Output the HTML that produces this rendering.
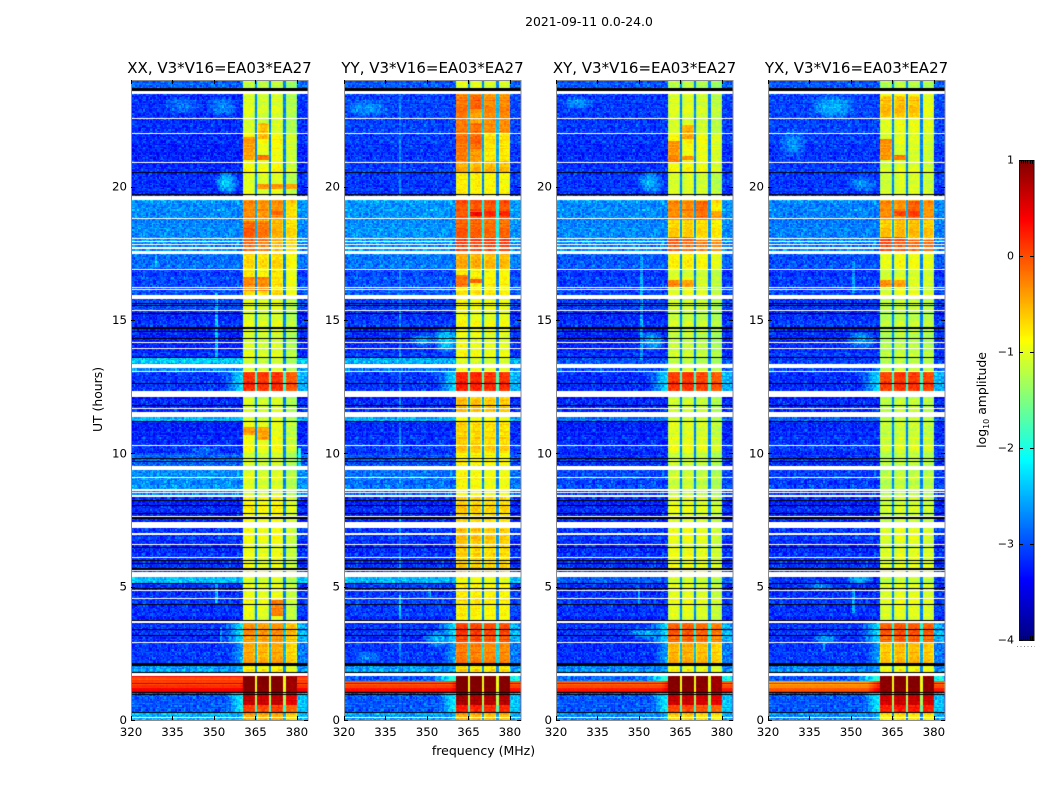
<!DOCTYPE html>
<html lang="en">
<head>
<meta charset="utf-8">
<title>2021-09-11 0.0-24.0</title>
<style>
html,body{margin:0;padding:0;background:#fff;}
#figure{position:relative;width:1050px;height:800px;overflow:hidden;background:#fff;font-family:"DejaVu Sans","Liberation Sans",sans-serif;}
canvas{position:absolute;display:block;}
svg{position:absolute;left:0;top:0;}
svg text{fill:#000;font-family:"DejaVu Sans","Liberation Sans",sans-serif;}
</style>
</head>
<body>
<div id="figure">
<canvas id="heat-xx" width="177" height="640" style="left:131px;top:80px"></canvas>
<canvas id="heat-yy" width="177" height="640" style="left:344px;top:80px"></canvas>
<canvas id="heat-xy" width="177" height="640" style="left:556px;top:80px"></canvas>
<canvas id="heat-yx" width="177" height="640" style="left:768px;top:80px"></canvas>
<canvas id="colorbar" width="15" height="480" style="left:1019px;top:160px"></canvas>
<svg id="overlay" width="1050" height="800" viewBox="0 0 1050 800">
<text x="589" y="26" font-size="12.4" text-anchor="middle">2021-09-11 0.0-24.0</text>
<text x="483.5" y="755" font-size="12.5" text-anchor="middle">frequency (MHz)</text>
<text transform="translate(102,399.5) rotate(-90)" font-size="12.4" text-anchor="middle">UT (hours)</text>
<text transform="translate(986,400) rotate(-90)" font-size="12.4" text-anchor="middle">log<tspan font-size="8" dy="3">10</tspan><tspan dy="-3"> amplitude</tspan></text>
<line x1="1017" y1="646.5" x2="1035" y2="646.5" stroke="#888" stroke-width="1" stroke-dasharray="1 2.5"></line>
</svg>
</div>
<script>
// ---- Time segments (UT hours) and their read log10 amplitudes ----
const segmentEdges = [0,0.26,0.55,1,1.43,1.7,2.05,2.9,3.7,5.12,5.4,6.5,7.4,8.35,9.4,10,11.2,11.4,12.1,13.1,13.4,13.6,15.3,15.9,16.9,17.5,19.5,20.5,22,23.5,24];

const lowXX = [-2.5,-2.95,-2.95,0.25,0.15,-2.6,-3.1,-3.15,-3.15,-2.4,-3.15,-3.15,-3.2,-2.7,-2.85,-3.2,-2.45,-3.2,-3.1,-2.7,-2.35,-3.2,-3.0,-3.05,-2.85,-2.7,-3.15,-3.2,-3.15,-2.9];
const lowYY = [-2.6,-2.95,-2.95,0.15,-2.95,-2.6,-3.1,-3.15,-3.1,-2.45,-3.15,-3.15,-3.2,-2.85,-2.95,-3.15,-2.5,-3.2,-3.1,-2.8,-2.5,-3.15,-3.05,-3.0,-2.8,-2.65,-3.1,-3.1,-3.05,-2.95];
const lowXY = [-2.7,-2.95,-2.95,0.1,-2.85,-2.7,-3.15,-3.15,-3.15,-2.9,-3.15,-3.15,-3.2,-3.05,-3.1,-3.2,-2.8,-3.2,-3.15,-3.0,-3.0,-3.2,-3.05,-3.1,-2.95,-2.7,-3.1,-3.15,-3.1,-2.95];
const lowYX = [-2.7,-2.95,-2.95,-0.2,-2.95,-2.7,-3.1,-3.15,-3.15,-3.1,-3.15,-3.15,-3.2,-3.1,-3.1,-3.15,-2.9,-3.2,-3.15,-3.05,-3.1,-3.15,-3.1,-3.1,-3.0,-2.75,-3.1,-3.1,-3.05,-2.95];

const highXX = [-0.5,0.05,0.65,1,1,-0.85,-0.5,-0.4,-1.0,-1.1,-1.0,-1.0,-0.9,-1.1,-1.1,-1.0,-1.1,-1.1,0.1,-1.1,-1.15,-1.1,-1.05,-0.8,-0.75,-0.55,-1.05,-0.95,-1.1,-1.2];
const highYY = [-0.55,0.2,0.75,1,1,-0.75,-0.3,0.0,-0.85,-1.0,-0.7,-0.65,-0.7,-0.95,-0.85,-0.7,-0.95,-0.6,0.15,-1,-1.1,-1,-0.95,-0.85,-0.55,-0.15,-0.85,-0.55,-0.45,-1.05];
const highXY = [-0.65,0.05,0.65,1,1,-0.9,-0.5,-0.1,-1.0,-1.1,-0.95,-1.0,-1.0,-1.15,-1.1,-1.0,-1.1,-1.1,0.1,-1.1,-1.2,-1.15,-1.1,-1.05,-0.85,-0.65,-1.05,-0.9,-1.05,-1.2];
const highYX = [-0.75,0.3,0.65,1,1,-0.9,-0.55,-0.05,-1.0,-1.15,-1.0,-1.05,-1.1,-1.2,-1.15,-1.1,-1.15,-1.15,0.1,-1.15,-1.2,-1.2,-1.15,-1.05,-0.95,-0.55,-1.05,-1.05,-0.95,-1.2];

// Raised level just below the 360 MHz edge (-9 = none)
const edgeTail = [-2.3,-2.1,-2.1,0.4,-1.8,-2.7,-2.5,-2.2,-9,-9,-9,-9,-9,-9,-9,-9,-9,-9,-2.2,-2.7,-9,-9,-9,-9,-9,-9,-9,-9,-9,-9];

// ---- Spectral windows (MHz) and per-panel brightness offsets ----
const windowStart = [360.5,365.6,370.6,375.8];
const windowEnd = [364.9,369.9,375.1,379.9];
const windowTrimXX = [0.05,0,0.05,-0.15];
const windowTrimYY = [0.08,0.05,0,0];
const windowTrimXY = [0,0.02,-0.05,-0.15];
const windowTrimYX = [-0.05,0.02,0,-0.05];

// ---- Visible time-limited features inside windows: window, start h, end h, level ----
const patchesXX = [[0,21,21.85,-0.4],[1,21,21.2,-0.15],[1,21.8,22.4,-0.55],[2,19.9,20.1,-0.35],[1,19.9,20.1,-0.35],[3,19.9,20.1,-0.4],[0,18.75,19.45,-0.3],[1,18.75,19.45,-0.35],[2,18.75,19.45,-0.35],[2,18.95,19.1,-0.05],[0,17.6,18.7,-0.1],[1,17.6,18.7,-0.2],[0,16.1,16.6,-0.3],[1,16.1,16.6,-0.3],[2,3.9,4.5,-0.25],[0,10.7,11,-0.35],[1,10.5,11,-0.4]];
const patchesYY = [[0,20.95,23.45,-0.2],[1,22.9,23.45,-0.1],[1,20.95,22.4,-0.35],[1,21.4,22.4,-0.15],[2,22.0,23.45,-0.3],[3,22.0,23.45,-0.3],[2,20.95,22,-0.75],[3,20.95,22,-0.75],[0,18.75,19.45,-0.05],[1,18.75,19.45,-0.05],[2,18.75,19.45,-0.05],[3,18.75,19.45,-0.05],[1,18.9,19.05,0.45],[2,18.9,19.1,0.25],[3,18.9,19.1,0.25],[0,17.6,18.1,0.1],[1,17.6,18.1,0.1],[2,17.6,18.1,0.1],[3,17.6,18.1,0.1],[0,16.2,16.7,-0.2],[1,16.4,16.55,-0.05]];
const patchesXY = [[0,21,21.7,-0.35],[0,20.9,21.15,-0.25],[1,21,21.15,-0.3],[1,21.8,22.3,-0.45],[0,18.75,19.45,-0.3],[1,18.75,19.45,-0.3],[2,18.75,19.45,-0.15],[3,18.75,19.1,-0.4],[0,17.6,18.1,-0.05],[1,17.6,18.1,-0.1],[2,17.6,18.0,-0.2],[3,17.6,18.0,-0.3],[0,16.2,16.5,-0.3],[1,16.2,16.5,-0.4]];
const patchesYX = [[0,21.0,21.8,-0.35],[1,21.0,21.2,-0.2],[0,22.6,23.4,-0.55],[1,22.6,23.4,-0.55],[2,22.6,23.4,-0.6],[0,18.75,19.45,-0.3],[1,18.75,19.45,-0.35],[2,18.75,19.45,-0.1],[3,18.75,19.45,-0.35],[1,18.9,19.1,0.1],[2,18.9,19.1,0.15],[0,17.6,18.1,0.05],[1,17.6,18.1,0.0],[2,17.6,18,-0.1],[3,17.6,18,-0.15],[0,16.2,16.5,-0.35],[1,16.2,16.5,-0.4]];

// ---- Diffuse brighter blobs in the low band: MHz from, MHz to, h from, h to, level ----
const blobsXX = [[350,359,19.7,20.6,-2.35],[347,359,22.6,23.4,-2.7],[331,346,22.7,23.4,-2.8],[340,352,9.8,10.3,-2.85]];
const blobsYY = [[352,362,13.7,14.8,-2.25],[343,354,14,14.5,-2.5],[348,360,2.7,3.4,-2.5],[323,334,2.1,2.6,-2.75],[320,337,22.6,23.3,-2.65]];
const blobsXY = [[350,360,13.8,14.6,-2.45],[349,359,19.7,20.6,-2.5],[322,334,22.9,23.4,-2.6],[346,360,3,3.5,-2.5]];
const blobsYX = [[335,352,22.5,23.5,-2.5],[324,334,21,22.2,-2.65],[348,358,5.1,5.45,-2.4],[348,360,19.8,20.4,-2.65],[348,360,13.9,14.6,-2.55],[336,346,2.8,3.3,-2.6],[334,344,4.8,5.2,-2.65]];

// ---- Narrow RFI lines: MHz, h from, h to, level ----
const rfiXX = [[351,13.4,16,-2.4],[351,4.4,5.1,-2.4],[352.5,2.9,3.5,-2.6],[329,17,17.4,-2.4],[381,9.4,10.2,-2.1]];
const rfiYY = [[340.3,0,24,-2.75],[340.3,3.8,4.7,-2.4],[351,4.6,5,-2.6]];
const rfiXY = [[351,13.5,17.4,-2.55],[350,4.3,5,-2.6]];
const rfiYX = [[351,4,4.9,-2.55],[351,16,17.2,-2.6],[340.3,2.6,3.1,-2.7]];

// ---- Flagged rows: white = no data, black = zero amplitude (UT hours from, to) ----
const whiteRows = [[23.48,23.6],[22.52,22.56],[21.98,22.01],[20.89,20.93],[19.5,19.66],[18.77,18.81],[18.04,18.09],[17.93,17.96],[17.81,17.85],[17.66,17.72],[17.48,17.6],[16.88,16.91],[16.21,16.25],[16.13,16.16],[15.78,15.95],[15.34,15.38],[14.13,14.16],[13.91,13.95],[13.19,13.35],[13.06,13.1],[12.12,12.34],[11.66,11.7],[11.36,11.55],[10.28,10.3],[9.38,9.53],[9.09,9.12],[8.6,8.66],[8.5,8.55],[8.36,8.44],[7.6,7.64],[7.2,7.41],[6.95,7.02],[6.55,6.59],[6.08,6.1],[5.6,5.64],[5.37,5.56],[4.83,4.86],[4.54,4.58],[3.64,3.72],[2.88,2.91],[1.64,1.77],[0.06,0.1]];
const blackRows = [[23.6,23.71],[20.51,20.55],[19.7,19.74],[15.63,15.65],[15.55,15.57],[15.24,15.27],[14.7,14.74],[14.66,14.69],[14.56,14.59],[14.28,14.31],[13.58,13.6],[12.6,12.63],[11.78,11.8],[11.18,11.2],[9.81,9.84],[9.68,9.7],[8.21,8.25],[8.04,8.07],[7.71,7.75],[7.55,7.6],[6.46,6.5],[5.99,6.01],[5.86,5.89],[5.64,5.69],[5.09,5.14],[4.91,4.94],[4.31,4.36],[3.71,3.75],[3.38,3.4],[3.15,3.18],[2.01,2.14],[1.77,1.81],[1.01,1.06],[0.95,0.98],[0.26,0.29]];

// ---- Fine-grain texture offsets (estimated amplitude of the speckle) ----
const speckleA = [0.31,-0.22,0.05,-0.41,0.18,0.52,-0.12,-0.33,0.27,-0.05,0.44,-0.28,0.09,-0.46,0.36,-0.16,0.02,0.23,-0.37,0.58,-0.09,-0.25,0.14,0.39,-0.43,-0.02,0.21,-0.31,0.47,-0.18,0.11];
const speckleB = [-0.14,0.38,-0.29,0.07,0.49,-0.36,0.16,-0.08,-0.44,0.25,0.33,-0.21,0.03,0.55,-0.39,-0.11,0.19,-0.27,0.42,0.06,-0.34,0.29,-0.17,0.12,-0.48,0.35,-0.04,0.22,-0.3];
const rowStripe = [0.12,-0.2,0.28,0.02,-0.15,0.34,-0.08,-0.3,0.18,0.05,-0.24,0.22,-0.11,0.3,-0.05,-0.18,0.09,0.26,-0.28,0.14,-0.02,-0.13,0.2];

// ---- Tick values ----
const freqTicks = [320,335,350,365,380];
const hourTicks = [0,5,10,15,20];
const colorTicks = [1,0,-1,-2,-3,-4];
const colorEndTicks = [0.14,0.28,0.42,0.56,0.7,0.84];

const panelNames = ['xx','yy','xy','yx'];
const panelTitles = ['XX, V3*V16=EA03*EA27','YY, V3*V16=EA03*EA27','XY, V3*V16=EA03*EA27','YX, V3*V16=EA03*EA27'];
const panelLows = [lowXX,lowYY,lowXY,lowYX];
const panelHighs = [highXX,highYY,highXY,highYX];
const panelTrims = [windowTrimXX,windowTrimYY,windowTrimXY,windowTrimYX];
const panelPatches = [patchesXX,patchesYY,patchesXY,patchesYX];
const panelBlobs = [blobsXX,blobsYY,blobsXY,blobsYX];
const panelRfi = [rfiXX,rfiYY,rfiXY,rfiYX];

// ---- Layout (pixels) ----
const plotLefts = [131,344,556,768];
const plotW = 177, plotTop = 80, plotH = 640;
const freqMin = 320, freqMax = 384, hourMin = 0, hourMax = 24;
const cbTop = 160, cbH = 480, cbLeft = 1019, cbW = 15;
const levelMin = -4, levelMax = 1;
const channelStep = 0.5, rowStep = 0.05;

function xScale(freq){ return (freq-freqMin)/(freqMax-freqMin)*plotW; }
function yScale(hour){ return plotH-(hour-hourMin)/(hourMax-hourMin)*plotH; }
function clamp01(v){ return Math.max(0,Math.min(1,v)); }
function jet(level){
  const v = clamp01((level-levelMin)/(levelMax-levelMin));
  const r = clamp01(1.5-Math.abs(4*v-3));
  const g = clamp01(1.5-Math.abs(4*v-2));
  const b = clamp01(1.5-Math.abs(4*v-1));
  return 'rgb('+Math.round(r*255)+','+Math.round(g*255)+','+Math.round(b*255)+')';
}
function segmentIndex(hour){
  for(let i=0;i<segmentEdges.length-1;i++){
    if(hour>=segmentEdges[i] && hour<segmentEdges[i+1]) return i;
  }
  return segmentEdges.length-2;
}
function windowIndex(freq){
  for(let i=0;i<windowStart.length;i++){
    if(freq>=windowStart[i] && freq<=windowEnd[i]) return i;
  }
  return -1;
}
function levelAt(p,freq,hour,col,row){
  const s = segmentIndex(hour);
  const low = panelLows[p][s], high = panelHighs[p][s];
  const a = speckleA[(col*col*5+row*row*3+col*row+col*11+row*2)%speckleA.length];
  const b = speckleB[(col*col*2+row*row*7+col*row*3+col*5+row*13)%speckleB.length];
  const stripe = rowStripe[(row*row+row*5)%rowStripe.length];
  if(freq>=windowStart[0] && freq<=windowEnd[windowEnd.length-1]){
    const w = windowIndex(freq);
    if(w<0){
      return Math.max(-2.75,high-2)+0.2*a;
    }
    let base = high+panelTrims[p][w];
    const patches = panelPatches[p];
    for(let i=0;i<patches.length;i++){
      if(patches[i][0]===w && hour>=patches[i][1] && hour<patches[i][2]) base = patches[i][3];
    }
    const edge = Math.min(freq-windowStart[w],windowEnd[w]-freq);
    if(edge<0.8 && base<0.8) base -= (0.8-edge)*(base>-0.5?0.12:0.4);
    return base+0.18*a+0.18*b+(high>0.8?0:0.3*stripe);
  }
  let base = low;
  const blobs = panelBlobs[p];
  for(let i=0;i<blobs.length;i++){
    const b0 = blobs[i];
    const dx = (freq-(b0[0]+b0[1])/2)/((b0[1]-b0[0])/2);
    const dy = (hour-(b0[2]+b0[3])/2)/((b0[3]-b0[2])/2);
    const d = dx*dx+dy*dy;
    if(d<1) base = Math.max(base,low+(b0[4]-low)*(1-d));
  }
  const tail = edgeTail[s];
  if(tail>-9){
    if(freq>=352 && freq<windowStart[0]) base = Math.max(base,tail-(360.5-freq)*0.13);
    if(freq>windowEnd[windowEnd.length-1] && freq<383.5) base = Math.max(base,tail-0.3);
  }
  const rfi = panelRfi[p];
  for(let i=0;i<rfi.length;i++){
    if(Math.abs(freq-rfi[i][0])<=channelStep/2 && hour>=rfi[i][1] && hour<rfi[i][2]) base = Math.max(base,rfi[i][3]);
  }
  const textureGain = low>-1 ? 0.06 : 0.45;
  return base+textureGain*(a+b)+(low>-1?1.3*stripe:0.18*stripe);
}
function drawHeatmap(p){
  const canvas = document.getElementById('heat-'+panelNames[p]);
  const ctx = canvas.getContext('2d');
  const cols = Math.round((freqMax-freqMin)/channelStep);
  const rows = Math.round((hourMax-hourMin)/rowStep);
  for(let r=0;r<rows;r++){
    const hour = hourMin+r*rowStep;
    const y1 = Math.round(yScale(hour)), y0 = Math.round(yScale(hour+rowStep));
    for(let c=0;c<cols;c++){
      const freq = freqMin+c*channelStep;
      const x0 = Math.round(xScale(freq)), x1 = Math.round(xScale(freq+channelStep));
      ctx.fillStyle = jet(levelAt(p,freq+channelStep/2,hour+rowStep/2,c,r));
      ctx.fillRect(x0,y0,x1-x0,y1-y0);
    }
  }
  whiteRows.forEach(function(f){
    const y0 = Math.round(yScale(f[1])), y1 = Math.round(yScale(f[0]));
    ctx.fillStyle = '#fff';
    ctx.fillRect(0,y0,plotW,Math.max(1,y1-y0));
  });
  blackRows.forEach(function(f){
    const y0 = Math.round(yScale(f[1])), y1 = Math.round(yScale(f[0]));
    ctx.fillStyle = '#000';
    ctx.fillRect(0,y0,plotW,Math.max(1,y1-y0));
  });
}
function drawColorbar(){
  const ctx = document.getElementById('colorbar').getContext('2d');
  for(let i=0;i<cbH;i++){
    const level = levelMax-(i+0.5)/cbH*(levelMax-levelMin);
    ctx.fillStyle = jet(level);
    ctx.fillRect(0,i,cbW,1);
  }
}

const SVGNS = 'http://www.w3.org/2000/svg';
const overlay = document.getElementById('overlay');
function drawAxes(p){
  const left = plotLefts[p], name = panelNames[p];

  const frame = document.createElementNS(SVGNS,'rect');
  frame.setAttribute('x',left+0.5);
  frame.setAttribute('y',plotTop+0.5);
  frame.setAttribute('width',plotW-0.5);
  frame.setAttribute('height',plotH);
  frame.setAttribute('fill','none');
  frame.setAttribute('stroke','#8c8c8c');
  
  
  overlay.appendChild(frame);

  const title = document.createElementNS(SVGNS,'text');
  title.textContent = panelTitles[p];
  title.setAttribute('x',left+plotW/2);
  title.setAttribute('y',plotTop-7);
  title.setAttribute('font-size','15');
  title.setAttribute('text-anchor','middle');
  
  
  overlay.appendChild(title);

  freqTicks.forEach(function(f){
    const x = Math.round(left+xScale(f))+0.5;
    [[plotTop+plotH,plotTop+plotH-4],[plotTop,plotTop+4]].forEach(function(ends){
      const tick = document.createElementNS(SVGNS,'line');
      tick.setAttribute('x1',x);
      tick.setAttribute('x2',x);
      tick.setAttribute('y1',ends[0]);
      tick.setAttribute('y2',ends[1]);
      tick.setAttribute('stroke','#000');
      
      
      overlay.appendChild(tick);
    });
    const label = document.createElementNS(SVGNS,'text');
    label.textContent = String(f);
    label.setAttribute('x',left+xScale(f));
    label.setAttribute('y',plotTop+plotH+16);
    label.setAttribute('font-size','11.8');
    label.setAttribute('text-anchor','middle');
    
    
    overlay.appendChild(label);
  });
  hourTicks.forEach(function(h){
    const y = Math.round(plotTop+yScale(h))+0.5;
    [[left,left+4],[left+plotW,left+plotW-4]].forEach(function(ends){
      const tick = document.createElementNS(SVGNS,'line');
      tick.setAttribute('x1',ends[0]);
      tick.setAttribute('x2',ends[1]);
      tick.setAttribute('y1',y);
      tick.setAttribute('y2',y);
      tick.setAttribute('stroke','#000');
      
      
      overlay.appendChild(tick);
    });
    const label = document.createElementNS(SVGNS,'text');
    label.textContent = String(h);
    label.setAttribute('x',left-4);
    label.setAttribute('y',plotTop+yScale(h)+4);
    label.setAttribute('font-size','11.8');
    label.setAttribute('text-anchor','end');
    
    
    overlay.appendChild(label);
  });
}
function drawColorbarAxis(){
  const frame = document.createElementNS(SVGNS,'rect');
  frame.setAttribute('x',cbLeft+0.5);
  frame.setAttribute('y',cbTop+0.5);
  frame.setAttribute('width',cbW-0.5);
  frame.setAttribute('height',cbH);
  frame.setAttribute('fill','none');
  frame.setAttribute('stroke','#111');
  
  
  overlay.appendChild(frame);
  colorEndTicks.forEach(function(fraction){
    const x = Math.round(cbLeft+fraction*cbW)+0.5;
    [[cbTop,cbTop+4],[cbTop+cbH,cbTop+cbH-4]].forEach(function(ends){
      const tick = document.createElementNS(SVGNS,'line');
      tick.setAttribute('x1',x);
      tick.setAttribute('x2',x);
      tick.setAttribute('y1',ends[0]);
      tick.setAttribute('y2',ends[1]);
      tick.setAttribute('stroke','#000');
      
      
      overlay.appendChild(tick);
    });
  });
  colorTicks.forEach(function(level){
    const y = Math.round(cbTop+(levelMax-level)/(levelMax-levelMin)*cbH)+0.5;
    [[cbLeft,cbLeft+4],[cbLeft+cbW,cbLeft+cbW-4]].forEach(function(ends){
      const tick = document.createElementNS(SVGNS,'line');
      tick.setAttribute('x1',ends[0]);
      tick.setAttribute('x2',ends[1]);
      tick.setAttribute('y1',y);
      tick.setAttribute('y2',y);
      tick.setAttribute('stroke','#000');
      
      
      overlay.appendChild(tick);
    });
    const label = document.createElementNS(SVGNS,'text');
    label.textContent = (level<0?'\u2212':'')+Math.abs(level);
    label.setAttribute('x',cbLeft-5);
    label.setAttribute('y',y+3);
    label.setAttribute('font-size','11');
    label.setAttribute('text-anchor','end');
    
    
    overlay.appendChild(label);
  });
}

for(let p=0;p<panelNames.length;p++){
  drawHeatmap(p);
  drawAxes(p);
}
drawColorbar();
drawColorbarAxis();
</script>
</body>
</html>
